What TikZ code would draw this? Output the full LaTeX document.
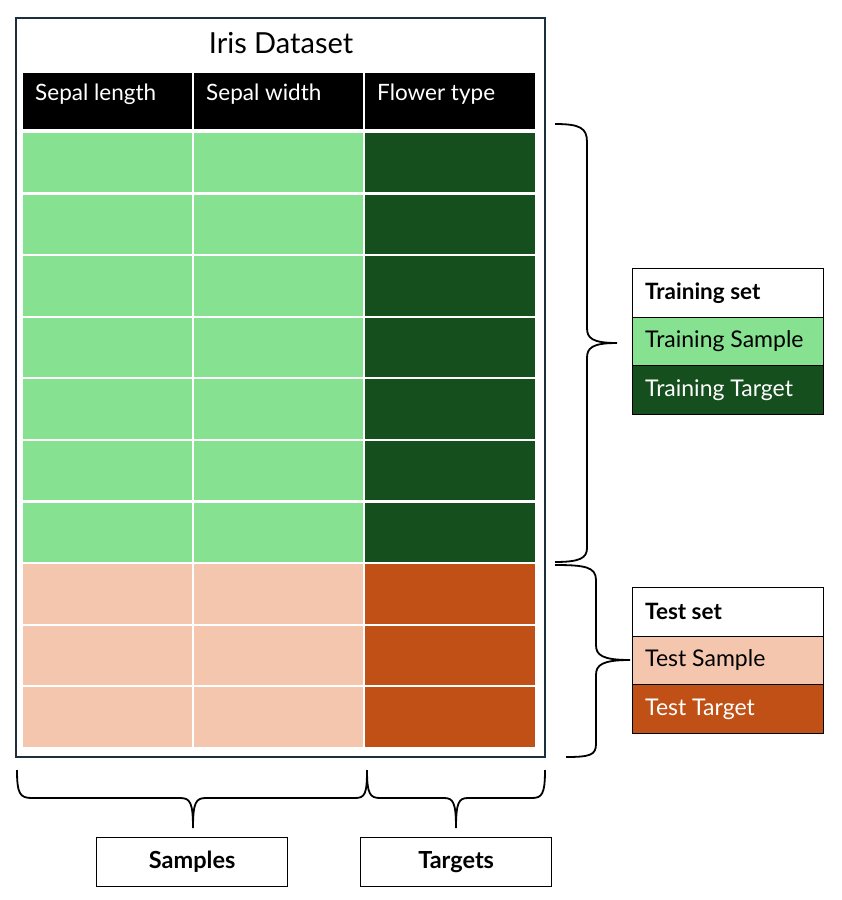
\documentclass[tikz,border=0pt]{standalone}
\usepackage{fontspec}
\setmainfont{Lato}
\definecolor{lgreen}{HTML}{86E291}
\definecolor{dgreen}{HTML}{154F1E}
\definecolor{peach}{HTML}{F5C6AE}
\definecolor{rust}{HTML}{C05016}
\definecolor{frame}{HTML}{1C2F3D}
\tikzset{
  brace/.style={line width=1.8pt, black, line join=round},
  hdr/.style={anchor=west, text=white, font=\fontsize{22.5}{26}\selectfont, inner sep=0pt},
  legrow/.style={draw=black, line width=1.3pt, minimum width=191pt, minimum height=48.5pt, anchor=north west, inner sep=0pt},
  legtxt/.style={anchor=west, font=\fontsize{23}{27}\selectfont, inner sep=0pt},
  legbold/.style={anchor=west, font=\bfseries\fontsize{22.5}{26}\selectfont, inner sep=0pt},
  labbox/.style={draw=black, line width=1.3pt, minimum width=191pt, minimum height=49pt, anchor=north west, inner sep=0pt, font=\bfseries\fontsize{23.5}{27}\selectfont},
}
\begin{document}
\begin{tikzpicture}[x=1pt,y=-1pt]
\useasboundingbox (0,0) rectangle (842,900);
\fill[white] (0,0) rectangle (842,900);
% outer frame
\draw[frame, line width=2pt] (16,18) rectangle (545,757);
\node[font=\fontsize{29}{33}\selectfont, inner sep=0pt] (title) at (281,43) {Iris Dataset};
% header
\foreach \xa/\xb in {23/192,194/363,365/535}{
  \fill[black] (\xa,73) rectangle (\xb,129);
}
\node[hdr] (h1) at (35,94) {Sepal length};
\node[hdr] (h2) at (206,94) {Sepal width};
\node[hdr] (h3) at (377,94) {Flower type};
% rows
\foreach \i in {0,...,9}{
  \pgfmathsetmacro{\yt}{133+61.6*\i}
  \pgfmathsetmacro{\yb}{\yt+59.4}
  \ifnum\i<7
    \fill[lgreen] (23,\yt) rectangle (192,\yb);
    \fill[lgreen] (194,\yt) rectangle (363,\yb);
    \fill[dgreen] (365,\yt) rectangle (535,\yb);
  \else
    \fill[peach] (23,\yt) rectangle (192,\yb);
    \fill[peach] (194,\yt) rectangle (363,\yb);
    \fill[rust] (365,\yt) rectangle (535,\yb);
  \fi
}
% training brace
\draw[brace] (555,124) .. controls (580,124) and (587,128) .. (587,142) -- (587,328)
  .. controls (587,338) and (592,343) .. (617,343)
  (617,343) .. controls (592,343) and (587,348) .. (587,358) -- (587,548)
  .. controls (587,558) and (580,562) .. (555,562);
% test brace
\draw[brace] (555,565) .. controls (585,565) and (596,567) .. (596,580) -- (596,645)
  .. controls (596,655) and (602,660) .. (630,660)
  (630,660) .. controls (602,660) and (596,665) .. (596,675) -- (596,744)
  .. controls (596,755) and (590,757) .. (566,757);
% bottom braces
\draw[brace] (17,770) .. controls (17,794) and (20,798) .. (32,798) -- (180,798)
  .. controls (190,798) and (193,802) .. (193,828)
  (193,828) .. controls (193,802) and (196,798) .. (206,798) -- (355,798)
  .. controls (365,798) and (367,794) .. (367,770);
\draw[brace] (367,770) .. controls (367,794) and (370,798) .. (380,798) -- (444,798)
  .. controls (453,798) and (456,802) .. (456,828)
  (456,828) .. controls (456,802) and (459,798) .. (468,798) -- (532,798)
  .. controls (542,798) and (545,794) .. (545,770);
% training legend
\node[legrow, fill=white] (trs) at (632,268) {};
\node[legrow, fill=lgreen] (trsa) at (632,316.5) {};
\node[legrow, fill=dgreen] (trta) at (632,365) {};
\node[legbold] (trs-t) at ([xshift=13pt]trs.west) {Training set};
\node[legtxt] (trsa-t) at ([xshift=13pt]trsa.west) {Training Sample};
\node[legtxt, text=white] (trta-t) at ([xshift=13pt]trta.west) {Training Target};
% test legend
\node[legrow, fill=white] (tes) at (632,587) {};
\node[legrow, fill=peach] (tesa) at (632,635.5) {};
\node[legrow, fill=rust] (teta) at (632,684) {};
\node[legbold] (tes-t) at ([xshift=13pt]tes.west) {Test set};
\node[legtxt] (tesa-t) at ([xshift=13pt]tesa.west) {Test Sample};
\node[legtxt, text=white] (teta-t) at ([xshift=13pt]teta.west) {Test Target};
% bottom labels
\node[labbox] (samples) at (96,837) {Samples};
\node[labbox] (targets) at (360,837) {Targets};
\end{tikzpicture}
\end{document}
